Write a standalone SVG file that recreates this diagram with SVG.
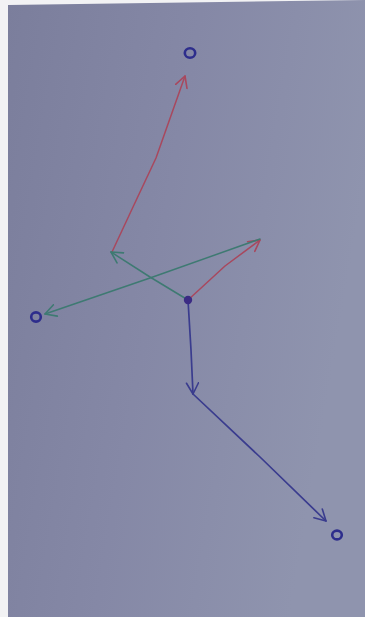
<svg xmlns="http://www.w3.org/2000/svg" width="365" height="617" viewBox="0 0 365 617">
  <defs>
    <linearGradient id="paper" x1="0" y1="0" x2="1" y2="0.3">
      <stop offset="0" stop-color="#7b7e9c"/>
      <stop offset="0.5" stop-color="#8588a6"/>
      <stop offset="1" stop-color="#8f94ae"/>
    </linearGradient>
    <marker id="ah-red" viewBox="-12 -7 14 14" markerWidth="14" markerHeight="14" refX="0" refY="0" orient="auto" markerUnits="userSpaceOnUse">
      <path d="M-11,-6 L0,0 L-11,6" fill="none" stroke="#a8485e" stroke-width="1.6" stroke-linecap="round" stroke-linejoin="round"/>
    </marker>
    <marker id="ah-green" viewBox="-12 -7 14 14" markerWidth="14" markerHeight="14" refX="0" refY="0" orient="auto" markerUnits="userSpaceOnUse">
      <path d="M-11,-6 L0,0 L-11,6" fill="none" stroke="#3e7a72" stroke-width="1.6" stroke-linecap="round" stroke-linejoin="round"/>
    </marker>
    <marker id="ah-blue" viewBox="-12 -7 14 14" markerWidth="14" markerHeight="14" refX="0" refY="0" orient="auto" markerUnits="userSpaceOnUse">
      <path d="M-11,-6 L0,0 L-11,6" fill="none" stroke="#3a3c8e" stroke-width="1.6" stroke-linecap="round" stroke-linejoin="round"/>
    </marker>
  </defs>
  <style>
    .red { fill: none; stroke: #a8485e; stroke-width: 1.5; stroke-linecap: round; stroke-linejoin: round; marker-end: url(#ah-red); }
    .green { fill: none; stroke: #3e7a72; stroke-width: 1.5; stroke-linecap: round; stroke-linejoin: round; marker-end: url(#ah-green); }
    .blue { fill: none; stroke: #3a3c8e; stroke-width: 1.7; stroke-linecap: round; stroke-linejoin: round; marker-end: url(#ah-blue); }
    .ring { fill: none; stroke: #2d2d8c; stroke-width: 2.6; }
  </style>
  <rect x="0" y="0" width="365" height="617" fill="#f2f2f4"/>
  <polygon points="8,5 365,0 365,617 8,617" fill="url(#paper)"/>

  <g id="connectors">
    <path class="red" d="M112,252 L133,207 L156,158 L185,76"/>
    <path class="red" d="M188,300 L225,266 L260,240"/>
    <path class="green" d="M188,300 L150,277 L111,252"/>
    <path class="green" d="M260,239 L150,278 L45,314"/>
    <path class="blue" d="M188,300 L191,350 L193,394"/>
    <path class="blue" d="M193,394 L260,457 L326,521"/>
  </g>

  <g id="node-origin">
    <circle cx="188" cy="300" r="4.2" fill="#3b2b84"/>
  </g>
  <g id="node-top">
    <ellipse cx="190" cy="53" rx="5.2" ry="4.8" class="ring"/>
  </g>
  <g id="node-left">
    <ellipse cx="36" cy="317" rx="4.8" ry="4.6" class="ring"/>
  </g>
  <g id="node-bottom">
    <ellipse cx="337" cy="535" rx="4.8" ry="4.4" class="ring"/>
  </g>
</svg>
